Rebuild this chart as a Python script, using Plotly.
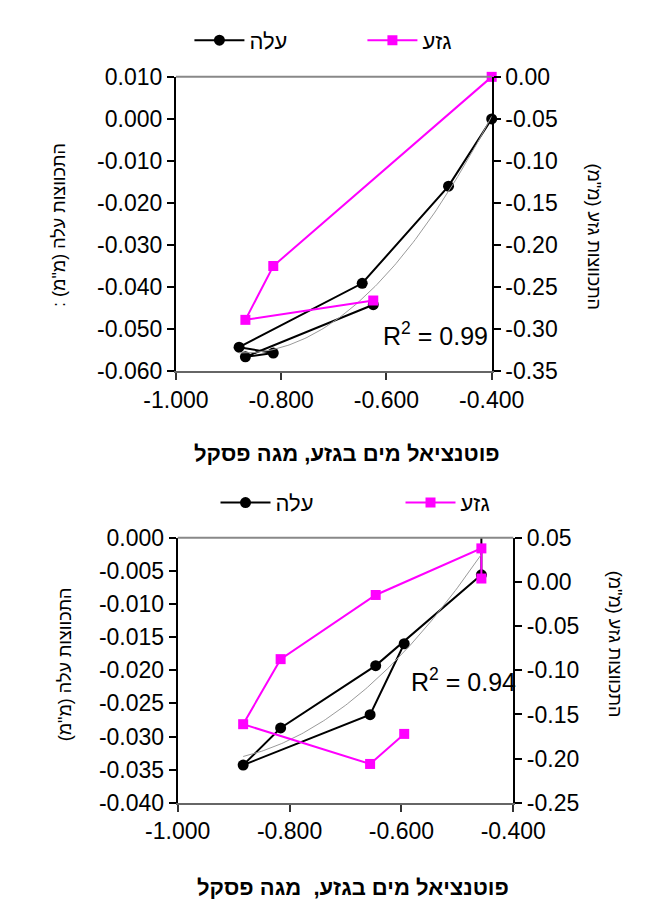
import numpy as np
import plotly.graph_objects as go

# ---------------- data ----------------
# top chart (shared x: trunk water potential, MPa)
x_top = [-0.400, -0.482, -0.646, -0.880, -0.815, -0.868, -0.625]
leaf_top = [0.000, -0.0160, -0.0391, -0.0543, -0.0557, -0.0566, -0.0442]
trunk_top = [0.000, None, None, None, -0.225, -0.289, -0.266]

# bottom chart
x_bot = [-0.457, -0.457, -0.646, -0.816, -0.883, -0.656, -0.595]
leaf_bot = [0.0006, -0.0056, -0.0193, -0.0287, -0.0343, -0.0267, -0.0160]
trunk_bot = [0.0038, 0.0379, -0.0148, -0.0874, -0.161, -0.206, -0.172]

# tick labels
x_tickvals = [-1.0, -0.8, -0.6, -0.4]
x_ticktext = ["-1.000", "-0.800", "-0.600", "-0.400"]
yl_top_vals = [0.01, 0.0, -0.01, -0.02, -0.03, -0.04, -0.05, -0.06]
yl_top_text = ["0.010", "0.000", "-0.010", "-0.020", "-0.030", "-0.040", "-0.050", "-0.060"]
yr_top_vals = [0.0, -0.05, -0.10, -0.15, -0.20, -0.25, -0.30, -0.35]
yr_top_text = ["0.00", "-0.05", "-0.10", "-0.15", "-0.20", "-0.25", "-0.30", "-0.35"]
yl_bot_vals = [0.0, -0.005, -0.01, -0.015, -0.02, -0.025, -0.03, -0.035, -0.04]
yl_bot_text = ["0.000", "-0.005", "-0.010", "-0.015", "-0.020", "-0.025", "-0.030", "-0.035", "-0.040"]
yr_bot_vals = [0.05, 0.0, -0.05, -0.10, -0.15, -0.20, -0.25]
yr_bot_text = ["0.05", "0.00", "-0.05", "-0.10", "-0.15", "-0.20", "-0.25"]

name_leaf = "עלה"
name_trunk = "גזע"
x_title = "\u200fפוטנציאל מים בגזע, מגה פסקל\u200f"
x_title_bot = "\u200fפוטנציאל מים בגזע,  מגה פסקל\u200f"
yl_title_top = '\u200fהתכווצות עלה (מ"מ) :\u200f'
yl_title_bot = '\u200fהתכווצות עלה (מ"מ)\u200f'
yr_title = '\u200fהתכווצות גזע (מ"מ)\u200f'
r2_top = "R<sup>2</sup> = 0.99"
r2_bot = "R<sup>2</sup> = 0.94"

W, H = 657, 904
FONT = "Liberation Sans, Arial, DejaVu Sans, sans-serif"
BLACK = "#000000"
MAG = "#FF00FF"


def trend(xs, ys):
    c = np.polyfit(xs, ys, 2)
    xx = np.linspace(min(xs), max(xs), 120)
    return xx, np.polyval(c, xx)


fig = go.Figure()

# ---- top chart ----
fig.add_trace(go.Scatter(x=x_top, y=leaf_top, name=name_leaf, mode="lines+markers",
                         line=dict(color=BLACK, width=2), marker=dict(symbol="circle", size=11, color=BLACK),
                         xaxis="x", yaxis="y", legend="legend", cliponaxis=False))
tx, ty = trend(x_top, leaf_top)
fig.add_trace(go.Scatter(x=tx, y=ty, mode="lines", line=dict(color="#9a9a9a", width=1),
                         showlegend=False, xaxis="x", yaxis="y", hoverinfo="skip"))
fig.add_trace(go.Scatter(x=x_top, y=trunk_top, name=name_trunk, mode="lines+markers", connectgaps=True,
                         line=dict(color=MAG, width=2), marker=dict(symbol="square", size=10, color=MAG),
                         xaxis="x", yaxis="y2", legend="legend", cliponaxis=False))

# ---- bottom chart ----
fig.add_trace(go.Scatter(x=x_bot, y=leaf_bot, name=name_leaf, mode="lines+markers",
                         line=dict(color=BLACK, width=2), marker=dict(symbol="circle", size=11, color=BLACK),
                         xaxis="x2", yaxis="y3", legend="legend2", cliponaxis=False))
bx, by = trend(x_bot, leaf_bot)
fig.add_trace(go.Scatter(x=bx, y=by, mode="lines", line=dict(color="#9a9a9a", width=1),
                         showlegend=False, xaxis="x2", yaxis="y3", hoverinfo="skip"))
fig.add_trace(go.Scatter(x=x_bot, y=trunk_bot, name=name_trunk, mode="lines+markers",
                         line=dict(color=MAG, width=2), marker=dict(symbol="square", size=10, color=MAG),
                         xaxis="x2", yaxis="y4", legend="legend2", cliponaxis=False))

tickfont = dict(family=FONT, size=23, color="black")
xdom_top = [150 / W, 501 / W]
xdom_bot = [152 / W, 525 / W]
top_dom = [1 - 360.5 / H, 1 - 57.5 / H]
bot_dom = [1 - 805 / H, 1 - 532 / H]

xcommon = dict(range=[-1.0, -0.4], tickvals=x_tickvals, ticktext=x_ticktext, ticks="outside",
               ticklen=7, tickwidth=2, tickcolor="#333", showline=True, linecolor="#666", linewidth=2,
               showgrid=False, zeroline=False, tickfont=tickfont)
ycommon = dict(ticks="outside", ticklen=7, tickwidth=2, tickcolor="black", showline=True,
               linecolor="black", linewidth=2, showgrid=False, zeroline=False, tickfont=tickfont)

fig.update_layout(
    width=W, height=H, margin=dict(l=0, r=0, t=0, b=0),
    paper_bgcolor="white", plot_bgcolor="white",
    font=dict(family=FONT, color="black"),
    xaxis=dict(anchor="y", domain=xdom_top, **xcommon),
    yaxis=dict(domain=top_dom, range=[-0.06, 0.01], tickvals=yl_top_vals, ticktext=yl_top_text,
               anchor="x", **ycommon),
    yaxis2=dict(domain=top_dom, range=[-0.35, 0.0], tickvals=yr_top_vals, ticktext=yr_top_text,
                overlaying="y", side="right", anchor="x", **ycommon),
    xaxis2=dict(anchor="y3", domain=xdom_bot, **xcommon),
    yaxis3=dict(domain=bot_dom, range=[-0.04, 0.0], tickvals=yl_bot_vals, ticktext=yl_bot_text,
                anchor="x2", **ycommon),
    yaxis4=dict(domain=bot_dom, range=[-0.25, 0.05], tickvals=yr_bot_vals, ticktext=yr_bot_text,
                overlaying="y3", side="right", anchor="x2", **ycommon),
    legend=dict(orientation="h", x=165 / W, y=1 - 20 / H, xanchor="left", yanchor="middle",
                font=dict(family=FONT, size=22), itemwidth=50, entrywidth=108, bgcolor="rgba(0,0,0,0)"),
    legend2=dict(orientation="h", x=194 / W, y=1 - 496 / H, xanchor="left", yanchor="middle",
                 font=dict(family=FONT, size=22), itemwidth=50, entrywidth=120, bgcolor="rgba(0,0,0,0)"),
    showlegend=True,
)

# top border lines of plot areas
for xr, yr in (("x domain", "y domain"), ("x2 domain", "y3 domain")):
    fig.add_shape(type="line", xref=xr, yref=yr, x0=0, x1=1, y0=1, y1=1,
                  line=dict(color="#888888", width=2))


def note(text, xpx, ypx, size, angle=0, bold=False):
    return dict(text=("<b>" + text + "</b>") if bold else text, x=xpx / W, y=1 - ypx / H,
                xref="paper", yref="paper", xanchor="center", yanchor="middle",
                textangle=angle, showarrow=False, font=dict(family=FONT, size=size, color="black"))


ann = [
    note(x_title, 340, 445, 22, bold=True),
    note(x_title_bot, 347, 892, 22, bold=True),
    note(yl_title_top, 20, 210, 18, angle=-90),
    note(yl_title_bot, 27, 662, 18, angle=-90),
    note(yr_title, 615, 222, 18, angle=90),
    note(yr_title, 639, 642, 18, angle=90),
    note(r2_top, 438, 322, 25),
    note(r2_bot, 470, 678, 25),
]
fig.update_layout(annotations=ann)

fig.write_html("out.html")
